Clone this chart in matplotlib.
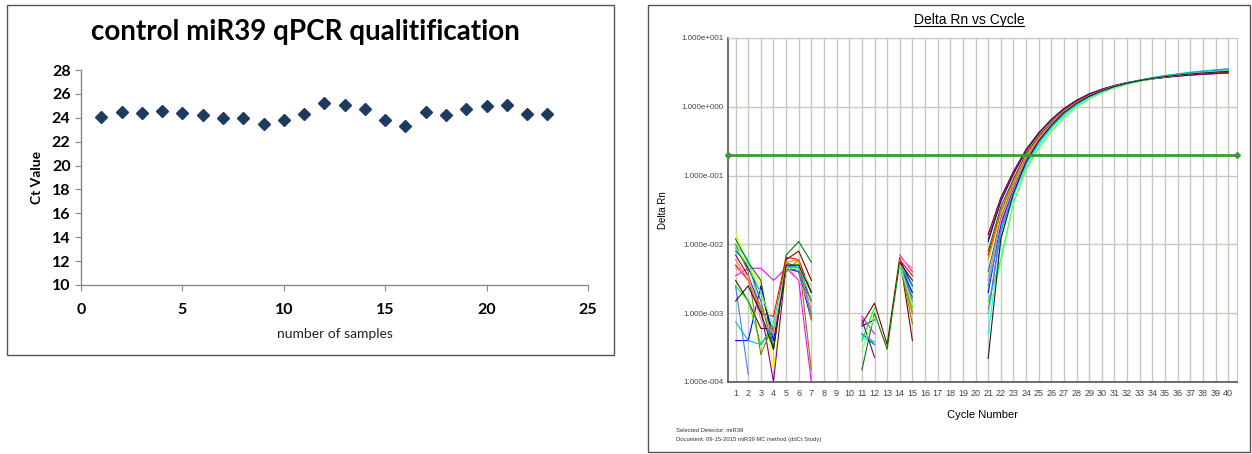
import numpy as np
import matplotlib
matplotlib.use("Agg")
import matplotlib.pyplot as plt
from matplotlib.patches import Rectangle
from matplotlib.lines import Line2D
from matplotlib.ticker import FixedLocator, FuncFormatter, NullLocator

nan = np.nan

# ---- left chart: Ct value per sample ----
samples = list(range(1, 24))
ct_values = [24.05, 24.5, 24.4, 24.6, 24.4, 24.2, 24.0, 24.0, 23.45, 23.8,
             24.35, 25.25, 25.1, 24.75, 23.85, 23.3, 24.45, 24.2, 24.75, 24.95,
             25.1, 24.3, 24.3]

# ---- right chart: Delta Rn vs cycle ----
early_cycles = [1, 2, 3, 4, 5, 6, 7]
mid_cycles = [11, 12, 13, 14, 15]
late_cycles = list(range(21, 41))

well_colors = ['#000080', '#ff00ff', '#ffff00', '#00ffff', '#800000', '#008000',
               '#0000ff', '#00ff00', '#ff0000', '#800080', '#008080', '#808000',
               '#ff8000', '#4080ff', '#ff80c0', '#00c0c0', '#80ff80', '#202020']

early_rn = [
    [9e-3, 4.5e-3, 2e-3, 5e-4, 5e-3, 4.5e-3, 1.2e-3],
    [3.5e-3, 4.5e-3, 4.5e-3, 3e-3, 4.5e-3, 3e-3, 1e-4],
    [1.5e-2, 5e-3, 2.5e-3, 1.5e-4, 4e-3, 5.5e-3, 1.2e-3],
    [1e-2, 6e-3, 1e-3, 7e-4, 5e-3, 4.5e-3, 1e-3],
    [3e-3, 1.5e-3, 6e-4, 6e-4, 6e-3, 8e-3, 3e-3],
    [1.2e-2, 5.5e-3, 3e-3, 3e-4, 7e-3, 1.1e-2, 5.5e-3],
    [4e-4, 4e-4, 2.5e-3, 4e-4, 4.5e-3, 4e-3, 8e-4],
    [2.5e-3, 1.5e-3, 3.5e-4, 6e-4, 5e-3, 5e-3, 2e-3],
    [5e-3, 3e-3, 1e-3, 9e-4, 6.5e-3, 6e-3, 2e-3],
    [7e-3, 3.5e-3, 1.2e-3, 1e-4, 5e-3, 4e-3, 1.5e-3],
    [8e-3, 5e-3, 1.5e-3, 3e-4, 5.5e-3, 4.5e-3, 9e-4],
    [1e-2, 4e-3, 2.5e-4, 7e-4, 4e-3, 6e-3, 1.5e-4],
    [6e-3, 3e-3, 1.2e-3, 5e-4, 5.5e-3, 6e-3, 8e-4],
    [2.5e-3, 1.3e-4, nan, nan, 5e-3, 4e-3, 1e-3],
    [4.5e-3, 3.5e-3, 8e-4, 5e-4, 5e-3, 3e-3, 1.2e-3],
    [7.5e-4, 4e-4, 3.5e-4, 7e-4, 4.5e-3, 5e-3, 1.5e-3],
    [9e-3, 5e-3, 2e-3, 6.5e-4, 4.5e-3, 4.5e-3, 2.5e-3],
    [1.5e-3, 2.5e-3, 1e-3, 3e-4, 5e-3, 5e-3, 2e-3],
]

mid_rn = [
    [6.5e-4, 8e-4, nan, 6e-3, 2.5e-3],
    [9e-4, 5e-4, nan, 7e-3, 4e-3],
    [nan, 4e-4, nan, 5e-3, 1.5e-3],
    [4.5e-4, 3.5e-4, nan, 5e-3, 2e-3],
    [7e-4, 1.4e-3, 3.5e-4, 6.5e-3, 4e-4],
    [1.5e-4, 1e-3, 3e-4, 5.5e-3, 1e-3],
    [nan, nan, nan, 5e-3, 2e-3],
    [4e-4, 1.2e-3, nan, 5.5e-3, 1.2e-3],
    [nan, 2e-3, nan, 6e-3, 3.5e-3],
    [8e-4, 2.3e-4, nan, 5e-3, 2.5e-3],
    [5e-4, 3.5e-4, nan, 5e-3, 1.7e-3],
    [nan, nan, nan, 5.5e-3, 7e-4],
    [nan, nan, nan, 6e-3, 1e-3],
    [5e-4, 3.8e-4, nan, 5e-3, 1.5e-3],
    [nan, nan, nan, 6.5e-3, 4.5e-3],
    [nan, nan, nan, 5e-3, 2.5e-3],
    [2.8e-4, 9e-4, nan, 5e-3, 1.3e-3],
    [nan, 9e-4, nan, 5.5e-3, 3e-3],
]

late_rn = [
    [1.1e-2, 4.2e-2, 0.105, 0.23, 0.41, 0.65, 0.94, 1.24, 1.54, 1.8, 2.04, 2.25, 2.43, 2.6, 2.74, 2.86, 2.96, 3.05, 3.12, 3.18],
    [1e-3, 1.8e-2, 6.5e-2, 0.17, 0.33, 0.55, 0.84, 1.14, 1.44, 1.72, 1.98, 2.2, 2.4, 2.58, 2.74, 2.88, 3.0, 3.1, 3.2, 3.28],
    [6e-3, 2.8e-2, 8e-2, 0.19, 0.35, 0.57, 0.86, 1.16, 1.46, 1.74, 2.0, 2.22, 2.42, 2.6, 2.76, 2.9, 3.02, 3.12, 3.22, 3.3],
    [5e-4, 1.2e-2, 5e-2, 0.14, 0.28, 0.49, 0.76, 1.06, 1.37, 1.66, 1.94, 2.18, 2.4, 2.6, 2.8, 2.97, 3.12, 3.26, 3.4, 3.55],
    [1.4e-2, 4.8e-2, 0.115, 0.24, 0.42, 0.65, 0.93, 1.22, 1.5, 1.76, 2.0, 2.2, 2.38, 2.54, 2.68, 2.8, 2.9, 2.98, 3.05, 3.12],
    [8e-3, 3.5e-2, 9e-2, 0.21, 0.38, 0.6, 0.89, 1.19, 1.48, 1.75, 2.0, 2.22, 2.41, 2.58, 2.73, 2.86, 2.98, 3.08, 3.16, 3.24],
    [2e-3, 2e-2, 6.8e-2, 0.17, 0.33, 0.55, 0.83, 1.13, 1.43, 1.71, 1.97, 2.2, 2.41, 2.6, 2.77, 2.92, 3.05, 3.17, 3.28, 3.38],
    [1.5e-3, 6e-3, 4e-2, 0.125, 0.25, 0.44, 0.7, 1.0, 1.3, 1.6, 1.88, 2.13, 2.36, 2.56, 2.74, 2.9, 3.04, 3.16, 3.27, 3.37],
    [7e-3, 3e-2, 8.5e-2, 0.2, 0.36, 0.58, 0.87, 1.17, 1.46, 1.73, 1.98, 2.2, 2.4, 2.57, 2.72, 2.85, 2.96, 3.06, 3.14, 3.22],
    [1.2e-2, 4.4e-2, 0.11, 0.235, 0.415, 0.655, 0.945, 1.245, 1.54, 1.8, 2.03, 2.23, 2.4, 2.55, 2.67, 2.78, 2.88, 2.96, 3.03, 3.1],
    [4e-3, 2.4e-2, 7.4e-2, 0.18, 0.34, 0.56, 0.85, 1.15, 1.45, 1.73, 1.99, 2.22, 2.43, 2.62, 2.79, 2.94, 3.07, 3.19, 3.3, 3.4],
    [3e-3, 2.2e-2, 7e-2, 0.175, 0.335, 0.555, 0.845, 1.145, 1.445, 1.72, 1.98, 2.21, 2.41, 2.59, 2.75, 2.89, 3.01, 3.12, 3.21, 3.3],
    [6e-3, 2.9e-2, 8.2e-2, 0.195, 0.355, 0.575, 0.865, 1.165, 1.46, 1.73, 1.99, 2.21, 2.41, 2.59, 2.75, 2.89, 3.01, 3.11, 3.2, 3.28],
    [1e-3, 1.5e-2, 5.6e-2, 0.15, 0.3, 0.51, 0.79, 1.09, 1.4, 1.69, 1.96, 2.2, 2.42, 2.62, 2.8, 2.96, 3.1, 3.23, 3.35, 3.46],
    [3e-3, 2.2e-2, 7e-2, 0.175, 0.335, 0.555, 0.845, 1.145, 1.445, 1.72, 1.98, 2.21, 2.41, 2.59, 2.75, 2.89, 3.01, 3.12, 3.22, 3.3],
    [2.5e-3, 1.6e-2, 5.8e-2, 0.155, 0.305, 0.515, 0.795, 1.095, 1.4, 1.69, 1.97, 2.22, 2.45, 2.66, 2.85, 3.02, 3.18, 3.32, 3.45, 3.58],
    [1e-3, 5.5e-3, 3.8e-2, 0.12, 0.245, 0.435, 0.69, 0.99, 1.29, 1.59, 1.87, 2.12, 2.35, 2.55, 2.73, 2.89, 3.03, 3.15, 3.26, 3.36],
    [2.2e-4, 1.2e-2, 5.5e-2, 0.16, 0.32, 0.54, 0.83, 1.13, 1.43, 1.71, 1.97, 2.2, 2.4, 2.58, 2.74, 2.88, 3.0, 3.1, 3.19, 3.27],
]

threshold = 0.2
all_cycles = list(range(1, 41))

W, H = 1252, 454
fig = plt.figure(figsize=(W / 100, H / 100), dpi=100)
fig.patch.set_facecolor('white')

def box(x0, y0, x1, y1):
    # panel frame, given in pixels from the top-left
    fig.add_artist(Rectangle((x0 / W, 1 - y1 / H), (x1 - x0) / W, (y1 - y0) / H,
                             transform=fig.transFigure, fill=False,
                             edgecolor='#555555', linewidth=1.0))

box(7, 5, 614, 355)
box(648, 5, 1250, 452)

# ---------------- left chart ----------------
calibri = ['Lato', 'DejaVu Sans']
ax1 = fig.add_axes([81 / W, 1 - 285 / H, 507 / W, 215 / H])
ax1.plot(samples, ct_values, linestyle='none', marker='D', markersize=6.5,
         color='#1f3a5f', markeredgecolor='#1f3a5f')
ax1.set_xlim(0, 25)
ax1.set_ylim(10, 28)
ax1.set_xticks([0, 5, 10, 15, 20, 25])
ax1.set_yticks(range(10, 29, 2))
for s in ['top', 'right']:
    ax1.spines[s].set_visible(False)
for s in ['left', 'bottom']:
    ax1.spines[s].set_color('#888888')
    ax1.spines[s].set_linewidth(1.0)
ax1.tick_params(direction='out', length=4, color='#888888', labelsize=11.5)
ax1.tick_params(axis='x', pad=9)
for lab in ax1.get_xticklabels() + ax1.get_yticklabels():
    lab.set_fontfamily(calibri)
    lab.set_fontweight('bold')
ax1.set_xlabel('number of samples', fontsize=10, family=calibri, labelpad=8,
               color='#222222')
ax1.set_ylabel('Ct Value', fontsize=10, family=calibri, fontweight='bold', labelpad=6)
fig.text(305 / W, 1 - 32 / H, 'control miR39 qPCR qualitification', ha='center',
         va='center', fontsize=20, fontweight='bold', family=calibri)

# ---------------- right chart ----------------
arial = ['Liberation Sans', 'DejaVu Sans']
ax2 = fig.add_axes([728 / W, 1 - 382 / H, 509 / W, 344 / H])
ax2.set_yscale('log')
ax2.set_xlim(0.4, 40.7)
ax2.set_ylim(1e-4, 1e1)

for i, c in enumerate(well_colors):
    ax2.plot(early_cycles, early_rn[i], color=c, linewidth=0.8)
    ax2.plot(mid_cycles, mid_rn[i], color=c, linewidth=0.8)
    ax2.plot(late_cycles, late_rn[i], color=c, linewidth=0.8)

ax2.axhline(threshold, color='#3c9a3c', linewidth=2.0, zorder=5)
ax2.plot([0.4, 40.7], [threshold, threshold], linestyle='none', marker='D',
         markersize=3, color='#3c9a3c', clip_on=False, zorder=6)

ax2.xaxis.set_major_locator(FixedLocator(all_cycles))
ax2.yaxis.set_major_locator(FixedLocator([1e-4, 1e-3, 1e-2, 1e-1, 1e0, 1e1]))
ax2.yaxis.set_minor_locator(NullLocator())

def sci_fmt(v, pos):
    e = int(round(np.log10(v)))
    return '1.000e{:+04d}'.format(e)

ax2.yaxis.set_major_formatter(FuncFormatter(sci_fmt))
ax2.grid(True, which='major', color='#c8c8c0', linewidth=1.0)
ax2.set_axisbelow(True)
ax2.tick_params(length=0, labelsize=6.5, colors='#444444', pad=5)
ax2.tick_params(axis='y', labelsize=5.8, pad=3)
for lab in ax2.get_xticklabels() + ax2.get_yticklabels():
    lab.set_fontfamily(arial)
for s in ['left', 'bottom']:
    ax2.spines[s].set_color('#555555')
    ax2.spines[s].set_linewidth(1.2)
for s in ['top', 'right']:
    ax2.spines[s].set_color('#c8c8c0')

ax2.set_xlabel('Cycle Number', fontsize=8, family=arial, labelpad=9)
ax2.set_ylabel('Delta Rn', fontsize=7, family=arial, labelpad=10)

title = fig.text(969 / W, 1 - 20 / H, 'Delta Rn vs Cycle', ha='center', va='center',
                 fontsize=10, family=arial)
fig.text(676 / W, 1 - 430 / H, 'Selected Detector: miR39', fontsize=4.2,
         family=arial, va='center', color='#333333')
fig.text(676 / W, 1 - 439 / H, 'Document: 09-15-2015 miR39 MC method (ddCt Study)',
         fontsize=4.2, family=arial, va='center', color='#333333')

# underline the right title
fig.canvas.draw()
bb = title.get_window_extent().transformed(fig.transFigure.inverted())
fig.add_artist(Line2D([bb.x0, bb.x1], [bb.y0 + 0.002, bb.y0 + 0.002],
                      transform=fig.transFigure, color='black', linewidth=0.8))

fig.savefig('out.png', dpi=100)
